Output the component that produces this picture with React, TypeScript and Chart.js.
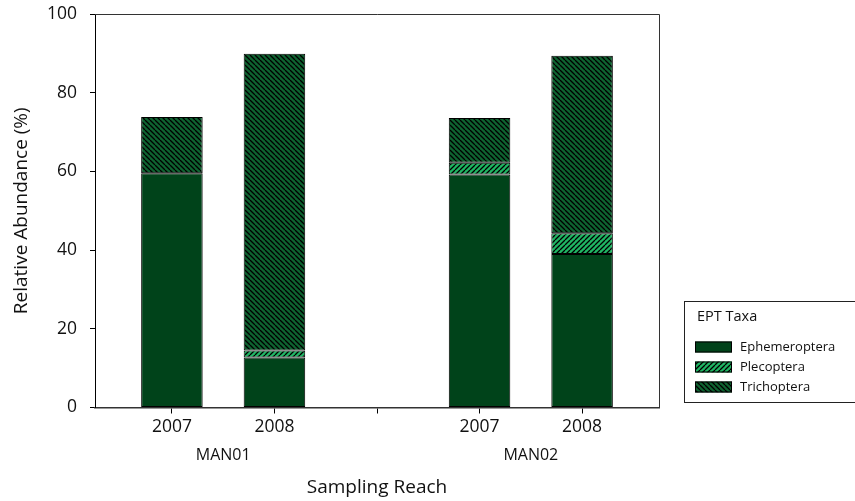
import { useEffect, useRef } from 'react';
import { Chart, registerables } from 'chart.js';

Chart.register(...registerables);

// bar slots on the x axis (slot 3 is the empty gap between reaches)
const positions = [1, 2, 4, 5];
const years = ['2007', '2008', '2007', '2008'];
const reaches = ['MAN01', 'MAN01', 'MAN02', 'MAN02'];

const ephemeroptera = [59.5, 12.7, 59.2, 39.0];
const plecoptera = [0, 1.8, 3.0, 5.3];
const trichoptera = [14.3, 75.4, 11.4, 45.1];

const yTicks = [0, 20, 40, 60, 80, 100];

const FONT = "'Open Sans', sans-serif";

// tick slots 1..5 and the centre of each reach group
const xTicks: number[] = [];
for (let v = Math.min(...positions); v <= Math.max(...positions); v++) xTicks.push(v);
const groupNames = reaches.filter((r, i) => reaches.indexOf(r) === i);
const groupCenters = groupNames.map((name) => {
  const xs = positions.filter((_, i) => reaches[i] === name);
  return xs.reduce((a, b) => a + b, 0) / xs.length;
});

function hatch(base: string, dir: 'back' | 'fwd') {
  const s = 5;
  const c = document.createElement('canvas');
  c.width = s;
  c.height = s;
  const g = c.getContext('2d')!;
  g.fillStyle = base;
  g.fillRect(0, 0, s, s);
  g.strokeStyle = '#000';
  g.lineWidth = 1.3;
  g.beginPath();
  for (let k = -1; k <= 1; k++) {
    if (dir === 'back') {
      g.moveTo(k * s, 0);
      g.lineTo(k * s + s, s);
    } else {
      g.moveTo(k * s, s);
      g.lineTo(k * s + s, 0);
    }
  }
  g.stroke();
  return g.createPattern(c, 'repeat')!;
}

const framePlugin = {
  id: 'frame',
  afterDatasetsDraw(chart: any) {
    const { ctx, chartArea: a } = chart;
    ctx.save();
    ctx.strokeStyle = '#333';
    ctx.lineWidth = 1;
    ctx.beginPath();
    ctx.moveTo(a.left, a.top + 0.5);
    ctx.lineTo(a.right + 0.5, a.top + 0.5);
    ctx.lineTo(a.right + 0.5, a.bottom);
    ctx.stroke();
    ctx.restore();
  },
};

const legendPlugin = {
  id: 'eptLegend',
  afterDraw(chart: any) {
    const { ctx } = chart;
    ctx.save();
    ctx.strokeStyle = '#222';
    ctx.lineWidth = 1;
    ctx.strokeRect(684.5, 301.5, 220, 101);
    ctx.fillStyle = '#111';
    ctx.textBaseline = 'middle';
    ctx.textAlign = 'left';
    ctx.font = `14.5px ${FONT}`;
    ctx.fillText('EPT Taxa', 697, 317);
    ctx.font = `13px ${FONT}`;
    chart.data.datasets.forEach((ds: any, i: number) => {
      const cy = 347 + i * 20;
      ctx.fillStyle = ds.backgroundColor;
      ctx.fillRect(695, cy - 5.5, 37, 11);
      ctx.strokeStyle = '#000';
      ctx.strokeRect(695.5, cy - 5, 36, 10);
      ctx.fillStyle = '#111';
      ctx.fillText(ds.label, 740, cy);
    });
    ctx.restore();
  },
};

export default function App() {
  const chartRef = useRef<HTMLCanvasElement>(null);
  const chartInstanceRef = useRef<Chart | null>(null);

  useEffect(() => {
    const ctx = chartRef.current?.getContext('2d');
    if (!ctx) return;
    if (chartInstanceRef.current) chartInstanceRef.current.destroy();

    const pts = (vals: number[]) => positions.map((x, i) => ({ x, y: vals[i] }));
    const common = { borderColor: '#000', borderWidth: 1, borderSkipped: false };

    chartInstanceRef.current = new Chart(ctx, {
      type: 'bar',
      data: {
        datasets: [
          { label: 'Ephemeroptera', data: pts(ephemeroptera), backgroundColor: '#00431a', ...common },
          { label: 'Plecoptera', data: pts(plecoptera), backgroundColor: hatch('#1fb563', 'fwd'), ...common },
          { label: 'Trichoptera', data: pts(trichoptera), backgroundColor: hatch('#0e6330', 'back'), ...common },
        ] as any,
      },
      options: {
        animation: false,
        responsive: true,
        maintainAspectRatio: false,
        layout: { padding: { top: 14, right: 196, bottom: 0, left: 0 } },
        datasets: { bar: { barPercentage: 0.6, categoryPercentage: 1 } },
        plugins: {
          legend: { display: false },
          tooltip: { enabled: false },
        },
        scales: {
          x: {
            type: 'linear',
            stacked: true,
            min: 0.25,
            max: 5.75,
            offset: false,
            grid: { display: true, offset: false, drawOnChartArea: false, drawTicks: true, tickLength: 6, color: '#000' },
            border: { display: true, color: '#333', width: 1.5 },
            ticks: {
              padding: 3,
              color: '#111',
              font: { family: FONT, size: 17.5 },
              callback: (value: any) => {
                const i = positions.indexOf(Number(value));
                return i >= 0 ? years[i] : '';
              },
            },
            afterBuildTicks: (s: any) => {
              s.ticks = xTicks.map((value) => ({ value }));
            },
            afterFit: (s: any) => {
              s.height = 30;
            },
          },
          x2: {
            type: 'linear',
            position: 'bottom',
            min: 0.25,
            max: 5.75,
            offset: false,
            grid: { display: false, offset: false, drawTicks: false },
            border: { display: false },
            ticks: {
              padding: 8.7,
              color: '#111',
              font: { family: FONT, size: 16 },
              callback: (_v: any, index: number) => groupNames[index],
            },
            afterBuildTicks: (s: any) => {
              s.ticks = groupCenters.map((value) => ({ value }));
            },
            afterFit: (s: any) => {
              s.height = 63.5;
            },
            title: {
              display: true,
              text: 'Sampling Reach',
              color: '#111',
              font: { family: FONT, size: 19 },
              padding: { top: 0, bottom: 1.6 },
            },
          },
          y: {
            stacked: true,
            min: 0,
            max: 100,
            grid: { drawOnChartArea: false, drawTicks: true, tickLength: 5, color: '#000' },
            border: { display: true, color: '#000', width: 1 },
            ticks: {
              padding: 13,
              color: '#111',
              font: { family: FONT, size: 17.5 },
            },
            afterBuildTicks: (s: any) => {
              s.ticks = yTicks.map((value) => ({ value }));
            },
            afterFit: (s: any) => {
              s.width = 95;
              s.paddingTop = 0;
              s.paddingBottom = 0;
            },
            title: {
              display: true,
              text: 'Relative Abundance (%)',
              color: '#111',
              font: { family: FONT, size: 19 },
              padding: { top: 10, bottom: 0 },
            },
          },
        },
      } as any,
      plugins: [framePlugin, legendPlugin],
    });

    return () => {
      if (chartInstanceRef.current) {
        chartInstanceRef.current.destroy();
        chartInstanceRef.current = null;
      }
    };
  }, []);

  return (
    <div style={{ position: 'fixed', left: 0, top: 0, width: 855, height: 501, background: '#fff' }}>
      <canvas ref={chartRef} />
    </div>
  );
}
